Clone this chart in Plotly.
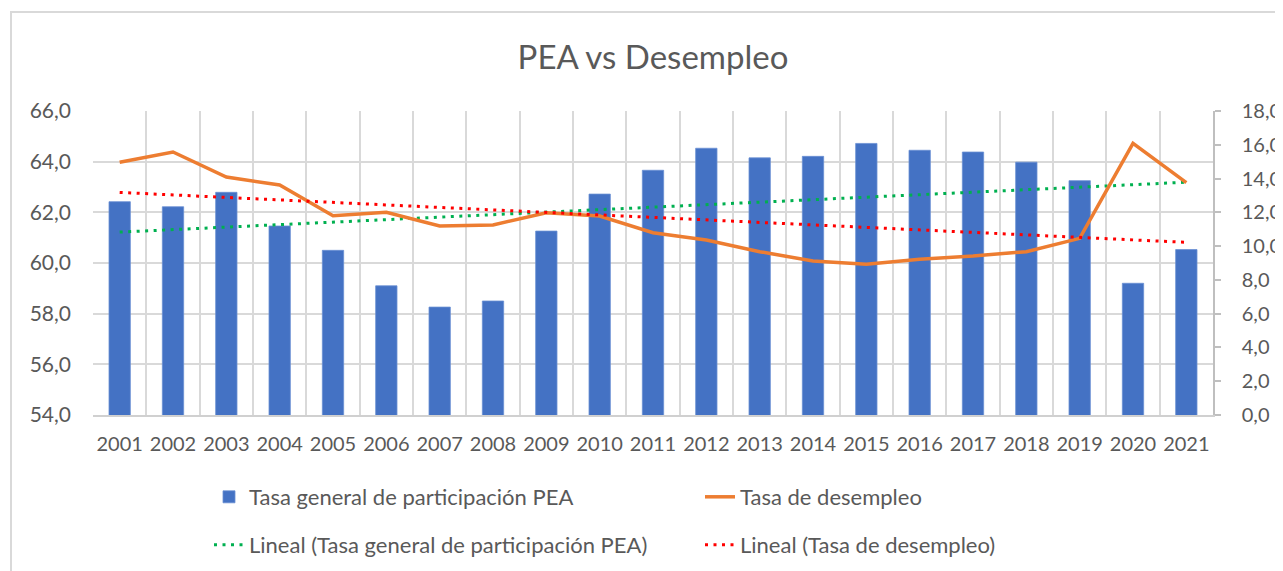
import numpy as np
import plotly.graph_objects as go

years = [str(y) for y in range(2001, 2022)]
pea = [62.42, 62.22, 62.79, 61.46, 60.50, 59.10, 58.26, 58.50, 61.26, 62.72, 63.66,
       64.53, 64.15, 64.21, 64.72, 64.45, 64.38, 63.98, 63.25, 59.20, 60.53]
desempleo = [14.96, 15.57, 14.09, 13.62, 11.80, 12.00, 11.19, 11.25, 11.98, 11.78, 10.79,
             10.36, 9.67, 9.12, 8.92, 9.22, 9.41, 9.67, 10.46, 16.08, 13.76]

name_bar = "Tasa general de participación PEA"
name_line = "Tasa de desempleo"
name_tr1 = "Lineal (Tasa general de participación PEA)"
name_tr2 = "Lineal (Tasa de desempleo)"

# linear trendlines (least squares, like Excel's "Lineal")
idx = np.arange(len(years))
c1 = np.polyfit(idx, pea, 1)
c2 = np.polyfit(idx, desempleo, 1)
trend_pea = np.polyval(c1, idx)
trend_des = np.polyval(c2, idx)

FONT = "Lato"
GREY = "#595959"
DOTS = "3px,5.5px"

fig = go.Figure()
fig.add_trace(go.Bar(x=years, y=pea, name=name_bar, marker=dict(color="#4472C4",
                     line=dict(color="#6A8FD3", width=0.8)), yaxis="y", legend="legend"))
fig.add_trace(go.Scatter(x=years, y=desempleo, name=name_line, mode="lines",
                         line=dict(color="#ED7D31", width=3.5), yaxis="y2", legend="legend"))
fig.add_trace(go.Scatter(x=years, y=trend_pea, name=name_tr1, mode="lines",
                         line=dict(color="#00B050", width=3, dash=DOTS), yaxis="y", legend="legend2"))
fig.add_trace(go.Scatter(x=years, y=trend_des, name=name_tr2, mode="lines",
                         line=dict(color="#FF0000", width=3, dash=DOTS), yaxis="y2", legend="legend2"))

# the page has an 8px body margin; work in screen coordinates and compensate
OFF = 8
W, H = 1283 - OFF, 571 - OFF
L, R, T, B = 93, 1213, 111, 415   # plot area in screen pixels
pw, ph = R - L, B - T

def px_x(p):
    return (p - L) / pw

def px_y(p):
    return (B - p) / ph

fig.update_layout(
    width=W, height=H,
    margin=dict(l=L - OFF, r=W - (R - OFF), t=T - OFF, b=H - (B - OFF), autoexpand=False),
    paper_bgcolor="white", plot_bgcolor="white",
    separators=",.",
    bargap=0.6,
    font=dict(family=FONT, color=GREY, size=20),
    title=dict(text="PEA vs Desempleo", x=0.5, xref="paper", xanchor="center",
               y=1 - (57 - OFF) / H, yanchor="middle", yref="container",
               font=dict(family=FONT, size=33, color=GREY)),
    xaxis=dict(type="category", tickson="boundaries", showgrid=True, gridcolor="#D9D9D9",
               gridwidth=1.5, ticks="", showline=True, linecolor="#D0D0D0", linewidth=1.5,
               tickangle=0, automargin=False,
               tickfont=dict(size=20, color=GREY), ticklabelstandoff=10, fixedrange=True),
    yaxis=dict(range=[54, 66], dtick=2, tickformat=".1f", showgrid=True, gridcolor="#D9D9D9",
               gridwidth=1.5, zeroline=False, showline=False, ticks="", automargin=False,
               tickfont=dict(size=21, color=GREY), ticklabelstandoff=21),
    yaxis2=dict(range=[0, 18], dtick=2, tickformat=".1f", overlaying="y", side="right",
                showgrid=False, zeroline=False, showline=True, linecolor="#BFBFBF", linewidth=1.5,
                ticks="outside", ticklen=6, tickcolor="#BFBFBF", tickwidth=1.5, automargin=False,
                tickfont=dict(size=20, color=GREY), ticklabelstandoff=17),
    legend=dict(orientation="h", x=px_x(209), xanchor="left", y=px_y(497), yanchor="middle",
                entrywidth=446, entrywidthmode="pixels", font=dict(size=22, color=GREY),
                bgcolor="rgba(0,0,0,0)"),
    legend2=dict(orientation="h", x=px_x(209), xanchor="left", y=px_y(545), yanchor="middle",
                 entrywidth=446, entrywidthmode="pixels", font=dict(size=22, color=GREY),
                 bgcolor="rgba(0,0,0,0)"),
    shapes=[dict(type="rect", xref="paper", yref="paper",
                 x0=px_x(11), x1=px_x(1320), y0=px_y(12), y1=px_y(620),
                 line=dict(color="#D9D9D9", width=2), fillcolor="rgba(0,0,0,0)", layer="below")],
)

fig.write_html("out.html")
